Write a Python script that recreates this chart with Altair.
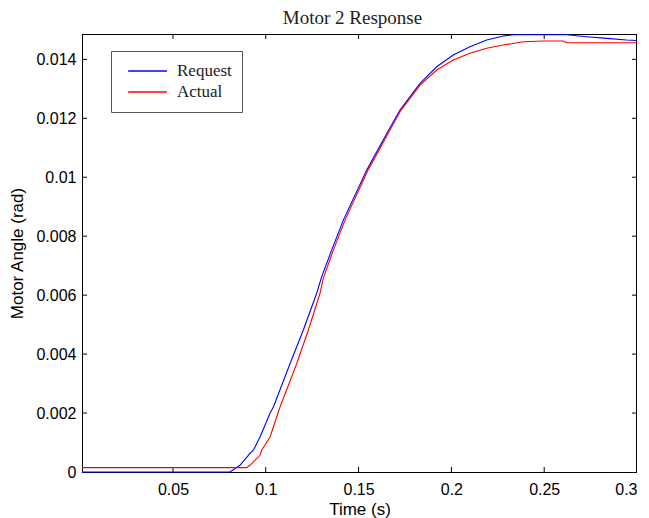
import altair as alt
import pandas as pd

# Request (blue) trace
req_t = [0.001, 0.0807, 0.0861, 0.0915, 0.0933, 0.0969, 0.1023, 0.1041, 0.1131, 0.1202,
         0.1274, 0.1301, 0.1355, 0.1418, 0.1544, 0.1652, 0.1723, 0.1831, 0.1921, 0.2010,
         0.2100, 0.2190, 0.2280, 0.2334, 0.2621, 0.2729, 0.2837, 0.2944, 0.3000]
req_v = [0.0, 0.0, 0.000227, 0.000635, 0.000737, 0.001188, 0.001993, 0.002207, 0.00368, 0.00481,
         0.006056, 0.00662, 0.007526, 0.008545, 0.010242, 0.011488, 0.012279, 0.013185, 0.013749, 0.014146,
         0.014428, 0.014655, 0.014791, 0.014835, 0.014835, 0.014767, 0.014713, 0.014655, 0.014638]

# Actual (red) trace
act_t = [0.001, 0.0897, 0.0915, 0.0969, 0.0978, 0.1023, 0.1059, 0.1077, 0.1167, 0.1229,
         0.1292, 0.1310, 0.1364, 0.1427, 0.1551, 0.1659, 0.1729, 0.1831, 0.1921, 0.2010,
         0.2100, 0.2190, 0.2280, 0.2388, 0.2495, 0.2603, 0.2621, 0.3000]
act_v = [0.000149, 0.000149, 0.000227, 0.000567, 0.000737, 0.001188, 0.001867, 0.002207, 0.00368, 0.00481,
         0.006056, 0.006576, 0.007526, 0.008545, 0.010242, 0.011488, 0.012279, 0.013128, 0.013637, 0.013976,
         0.014204, 0.014374, 0.014486, 0.014598, 0.014621, 0.014621, 0.014564, 0.014564]

x_ticks = [0.05, 0.1, 0.15, 0.2, 0.25, 0.3]
y_ticks = [0, 0.002, 0.004, 0.006, 0.008, 0.01, 0.012, 0.014]
series = ["Request", "Actual"]
colors = ["#0000ff", "#ff0000"]

df = pd.concat([
    pd.DataFrame({"time": req_t, "angle": req_v, "series": "Request", "order": range(len(req_t))}),
    pd.DataFrame({"time": act_t, "angle": act_v, "series": "Actual", "order": range(len(act_t))}),
])

W, H = 555, 438
xs = alt.Scale(domain=[0.001, 0.3], nice=False, zero=False)
ys = alt.Scale(domain=[0, 0.01486], nice=False)

one = pd.DataFrame({"a": [0]})
border_top = alt.Chart(one).mark_rule(color="black").encode(
    x=alt.value(0), x2=alt.value(W), y=alt.value(0.5))
border_bottom = alt.Chart(one).mark_rule(color="black").encode(
    x=alt.value(0), x2=alt.value(W), y=alt.value(H + 0.5))
border_right = alt.Chart(one).mark_rule(color="black").encode(
    x=alt.value(W - 0.5), y=alt.value(0), y2=alt.value(H + 1))
border_left = alt.Chart(one).mark_rule(color="black").encode(
    x=alt.value(0.5), y=alt.value(0), y2=alt.value(H + 1))

xt = pd.DataFrame({"time": x_ticks[:-1]})
yt = pd.DataFrame({"angle": y_ticks[1:]})

tb = alt.Chart(xt).mark_rule(color="black").encode(x=alt.X("time:Q", scale=xs), y=alt.value(H), y2=alt.value(H - 5))
tt = alt.Chart(xt).mark_rule(color="black").encode(x=alt.X("time:Q", scale=xs), y=alt.value(0), y2=alt.value(5))
tl = alt.Chart(yt).mark_rule(color="black").encode(y=alt.Y("angle:Q", scale=ys), x=alt.value(0), x2=alt.value(5))
tr = alt.Chart(yt).mark_rule(color="black").encode(y=alt.Y("angle:Q", scale=ys), x=alt.value(W), x2=alt.value(W - 5))

lines = alt.Chart(df).mark_line(strokeWidth=1.1).encode(
    x=alt.X("time:Q", scale=xs, title="Time (s)",
            axis=alt.Axis(values=x_ticks, format="~g", grid=False, ticks=False, domain=False,
                          labelPadding=9, titlePadding=4)),
    y=alt.Y("angle:Q", scale=ys, title="Motor Angle (rad)",
            axis=alt.Axis(values=y_ticks, format="~g", grid=False, ticks=False, domain=False,
                          labelPadding=6, titlePadding=9)),
    color=alt.Color("series:N", scale=alt.Scale(domain=series, range=colors),
                    legend=alt.Legend(title=None, orient="none", legendX=29, legendY=17,
                                      symbolType="stroke", symbolSize=1500, symbolStrokeWidth=1.5,
                                      clipHeight=20, rowPadding=1, symbolOffset=6,
                                      labelFont="Liberation Serif", labelFontSize=17,
                                      labelColor="#222222", labelOffset=9,
                                      strokeColor="#555555", fillColor="white",
                                      padding=10)),
    order="order:Q",
)

chart = alt.layer(border_top, border_bottom, border_left, border_right, tb, tt, tl, tr, lines).properties(
    width=W, height=H,
    title=alt.Title("Motor 2 Response", font="Liberation Serif", fontSize=19,
                    fontWeight="normal", color="#222222", offset=5, dx=-7),
    autosize=alt.AutoSizeParams(type="none"),
    padding={"left": 74, "top": 26, "right": 4, "bottom": 46},
).configure_view(stroke=None).configure_axis(
    labelColor="black", titleColor="black",
    labelFont="Liberation Sans", labelFontSize=16, titleFont="Liberation Sans",
    titleFontSize=17, titleFontWeight="normal",
)

chart.save("out.html", embed_options={"renderer": "svg", "actions": False})
